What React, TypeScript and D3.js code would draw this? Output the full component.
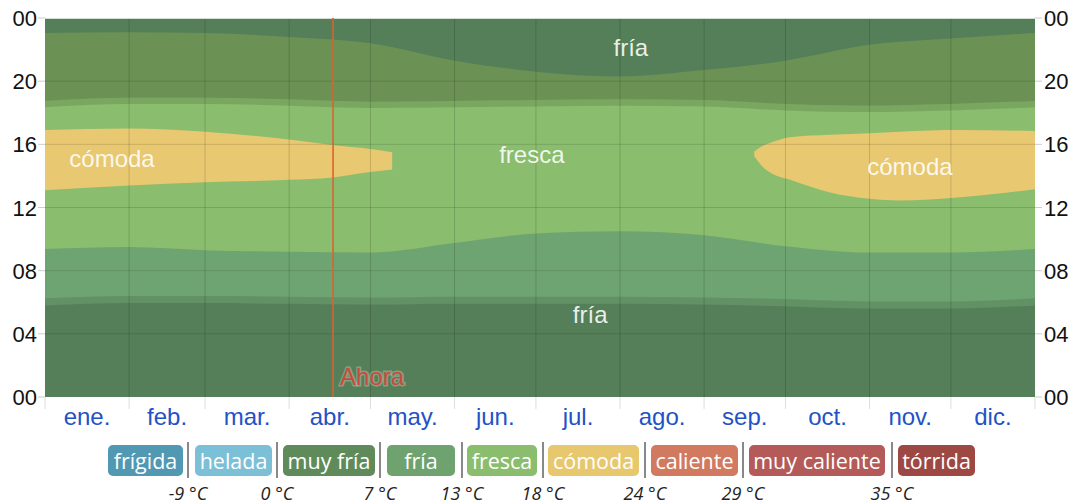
import React from "react";
import * as d3 from "d3";

// ---- data ----
const monthLabels = ["ene.", "feb.", "mar.", "abr.", "may.", "jun.", "jul.", "ago.", "sep.", "oct.", "nov.", "dic."];
const monthStarts = [0, 31, 59, 90, 120, 151, 181, 212, 243, 273, 304, 334, 365];
const hourTicks = [0, 4, 8, 12, 16, 20, 24];

// band boundaries sampled at month starts (hours)
const friaMorningTop = [9.37, 9.5, 9.3, 9.2, 9.15, 9.75, 10.35, 10.5, 10.25, 9.55, 9.15, 9.15, 9.37];
const friaEveningBottom = [23.05, 23.1, 23.05, 22.8, 22.4, 21.3, 20.6, 20.3, 20.7, 21.3, 22.3, 22.7, 23.05];
const sunrise = [5.8, 5.95, 5.95, 5.9, 5.85, 5.9, 5.9, 5.9, 5.85, 5.75, 5.6, 5.6, 5.8];
const sunset = [18.35, 18.55, 18.55, 18.45, 18.3, 18.35, 18.4, 18.45, 18.4, 18.15, 18.05, 18.15, 18.35];

const comodaLeftDays = [0, 31, 59, 90, 106, 120, 128];
const comodaLeftLo = [13.1, 13.4, 13.6, 13.75, 13.9, 14.25, 14.4];
const comodaLeftHi = [16.9, 17.0, 16.8, 16.3, 15.95, 15.7, 15.5];

const comodaRightDays = [261.5, 264.5, 267.5, 274.7, 289.4, 304, 315, 337.4, 365];
const comodaRightLo = [15.25, 14.6, 14.2, 13.75, 12.95, 12.55, 12.45, 12.65, 13.15];
const comodaRightHi = [15.55, 15.9, 16.1, 16.45, 16.6, 16.7, 16.8, 16.9, 16.85];

const nowDay = 106.2;

const legendLabels = ["frígida", "helada", "muy fría", "fría", "fresca", "cómoda", "caliente", "muy caliente", "tórrida"];
const legendColors = ["#5198b3", "#7cc0d7", "#5f8b5a", "#6ea26f", "#8abd6d", "#e8c86e", "#d27a5f", "#b45a58", "#9e4843"];
const legendThresholds = ["-9 °C", "0 °C", "7 °C", "13 °C", "18 °C", "24 °C", "29 °C", "35 °C"];

// ---- layout ----
const W = 1078, H = 504;
const L = 45, R = 1035, T = 18, B = 397;
const legendBoxX = [108, 195, 283, 387, 467, 548, 651, 749, 898];
const legendBoxW = [75, 77, 92, 68, 70, 91, 87, 136, 77];
const legendSepX = [188, 277, 380, 462, 543, 645, 743, 892];

const C_FRESCA = "#8abd6d";
const C_FRIA = "#6ea472";
const C_COMODA = "#e8c870";
const NIGHT = 0.225;

export default function App() {
  const x = d3.scaleLinear().domain([0, 365]).range([L, R]);
  const y = d3.scaleLinear().domain([0, 24]).range([B, T]);

  const idx = monthStarts.map((_, i) => i);
  const band = (lo: (i: number) => number, hi: (i: number) => number) =>
    d3.area<number>()
      .x((i) => x(monthStarts[i]))
      .y0((i) => y(lo(i)))
      .y1((i) => y(hi(i)))
      .curve(d3.curveMonotoneX)(idx) || "";

  const blob = (days: number[], lo: number[], hi: number[]) =>
    d3.area<number>()
      .x((i) => x(days[i]))
      .y0((i) => y(lo[i]))
      .y1((i) => y(hi[i]))
      .curve(d3.curveMonotoneX)(days.map((_, i) => i)) || "";

  const friaBottom = band(() => 0, (i) => friaMorningTop[i]);
  const friaTop = band((i) => friaEveningBottom[i], () => 24);
  const nightMorning = band(() => 0, (i) => sunrise[i]);
  const twilightMorning = band((i) => sunrise[i], (i) => sunrise[i] + 0.45);
  const twilightEvening = band((i) => sunset[i], (i) => sunset[i] + 0.4);
  const nightEvening = band((i) => sunset[i] + 0.4, () => 24);

  const sans = "'Liberation Sans', Arial, sans-serif";
  const legendFont = "'Open Sans', 'Noto Sans', sans-serif";

  return (
    <svg width={W} height={H} style={{ position: "absolute", left: 0, top: 0, background: "#fff" }}>
      <defs>
        <clipPath id="plot">
          <rect x={L} y={T} width={R - L} height={B - T} />
        </clipPath>
      </defs>
      <g clipPath="url(#plot)">
        <rect x={L} y={T} width={R - L} height={B - T} fill={C_FRESCA} />
        <path d={friaBottom} fill={C_FRIA} />
        <path d={friaTop} fill={C_FRIA} />
        <path d={blob(comodaLeftDays, comodaLeftLo, comodaLeftHi)} fill={C_COMODA} />
        <path d={blob(comodaRightDays, comodaRightLo, comodaRightHi)} fill={C_COMODA} />
        <path d={nightMorning} fill="#000" fillOpacity={NIGHT} />
        <path d={twilightMorning} fill="#000" fillOpacity={NIGHT / 2} />
        <path d={twilightEvening} fill="#000" fillOpacity={NIGHT / 2} />
        <path d={nightEvening} fill="#000" fillOpacity={NIGHT} />
        {/* grid */}
        {hourTicks.slice(1, -1).map((h) => (
          <line key={"h" + h} x1={L} x2={R} y1={y(h)} y2={y(h)} stroke="#000" strokeOpacity={0.13} />
        ))}
        {monthStarts.slice(1, -1).map((d) => (
          <line key={"v" + d} x1={x(d)} x2={x(d)} y1={T} y2={B} stroke="#000" strokeOpacity={0.15} />
        ))}
      </g>
      <line x1={L} x2={R} y1={T + 0.5} y2={T + 0.5} stroke="#d3ddd3" />
      {/* labels inside */}
      <g fontFamily={sans} fontSize={24} fill="#fff" fillOpacity={0.88} textAnchor="middle">
        <text x={x(24.7)} y={y(15.05) + 8}>cómoda</text>
        <text x={x(179.5)} y={y(15.3) + 8}>fresca</text>
        <text x={x(318.9)} y={y(14.55) + 8}>cómoda</text>
        <text x={x(216)} y={y(22.1) + 8}>fría</text>
        <text x={x(201)} y={y(5.2) + 8}>fría</text>
      </g>
      {/* now line */}
      <line x1={x(nowDay)} x2={x(nowDay)} y1={T} y2={B} stroke="#e0602e" strokeWidth={1.6} />
      <text x={x(nowDay) + 7} y={385} fontFamily={sans} fontSize={24} fill="#cc4a3c"
        stroke="#b9cdb5" strokeOpacity={0.45} strokeWidth={3} paintOrder="stroke">Ahora</text>
      {/* y axes */}
      {hourTicks.map((h, i) => (
        <g key={"yt" + i}>
          <line x1={L - 7} x2={L} y1={y(h)} y2={y(h)} stroke="#ccc" />
          <line x1={R} x2={R + 7} y1={y(h)} y2={y(h)} stroke="#ccc" />
          <text x={L - 8} y={y(h) + 8} textAnchor="end" fontFamily={sans} fontSize={22} fill="#111">
            {String(h % 24).padStart(2, "0")}
          </text>
          <text x={R + 9} y={y(h) + 8} textAnchor="start" fontFamily={sans} fontSize={22} fill="#111">
            {String(h % 24).padStart(2, "0")}
          </text>
        </g>
      ))}
      {/* x axis */}
      {monthStarts.map((d, i) => (
        <line key={"xt" + i} x1={x(d)} x2={x(d)} y1={B} y2={B + 12} stroke="#ddd" />
      ))}
      {monthLabels.map((m, i) => (
        <text key={m} x={x((monthStarts[i] + monthStarts[i + 1]) / 2)} y={425} textAnchor="middle"
          fontFamily={sans} fontSize={24} fill="#2352c6">{m}</text>
      ))}
      {/* legend */}
      {legendLabels.map((lab, i) => (
        <g key={lab}>
          <rect x={legendBoxX[i]} y={445} width={legendBoxW[i]} height={31} rx={5} fill={legendColors[i]} />
          <text x={legendBoxX[i] + legendBoxW[i] / 2} y={468.5} textAnchor="middle"
            fontFamily={legendFont} fontSize={21.5} fill="#fff">{lab}</text>
        </g>
      ))}
      {legendSepX.map((sx, i) => (
        <g key={"s" + i}>
          <line x1={sx} x2={sx} y1={442} y2={478} stroke="#888" strokeWidth={2} />
          <text x={sx} y={500} textAnchor="middle" fontFamily={legendFont}
            fontStyle="italic" fontSize={18} fill="#222">{legendThresholds[i]}</text>
        </g>
      ))}
    </svg>
  );
}
